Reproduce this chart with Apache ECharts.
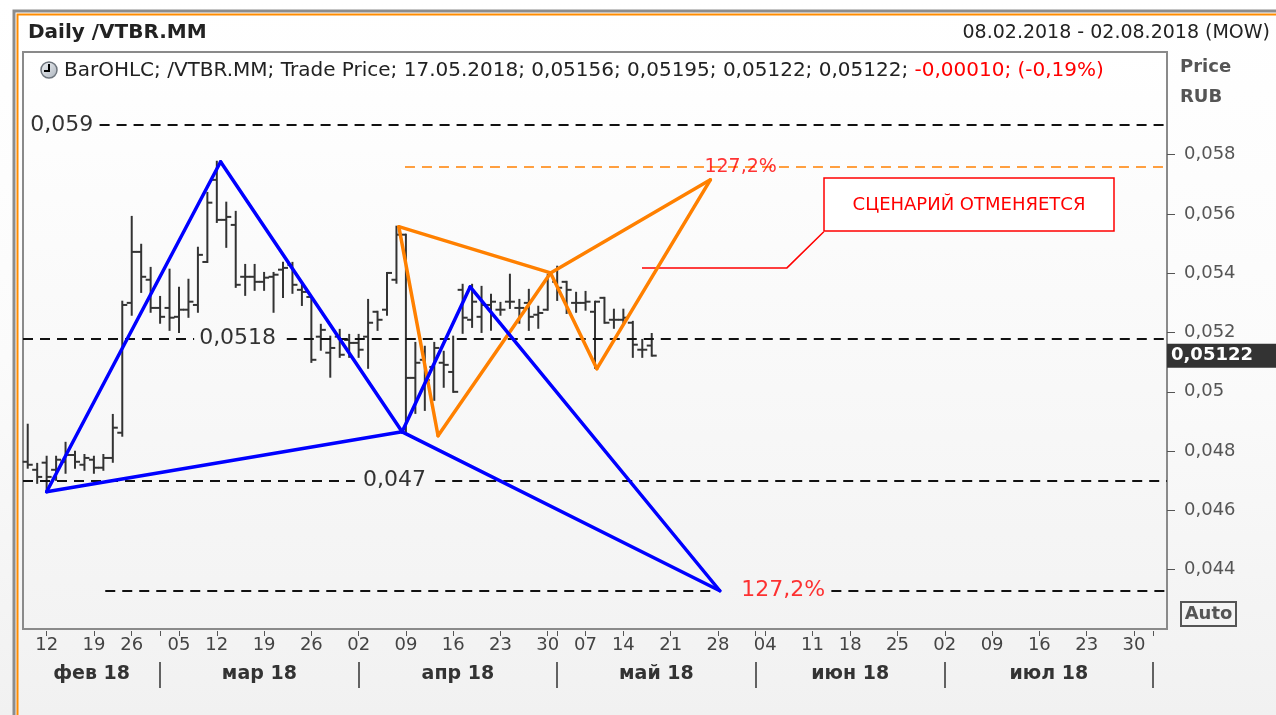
<!DOCTYPE html>
<html>
<head>
<meta charset="utf-8">
<script src="https://cdn.jsdelivr.net/npm/echarts@6/dist/echarts.min.js"></script>
<style>
html, body { margin: 0; padding: 0; }
#main { width: 1276px; height: 715px; background: linear-gradient(#ffffff 0%, #fbfbfb 50%, #f1f1f1 100%); }
</style>
</head>
<body>
<div id="main"></div>
<script>
// trading calendar (MOEX): weekdays minus these holidays
var holidays = ['2018-02-23', '2018-03-08', '2018-05-01', '2018-05-09', '2018-06-12'];
var firstDay = '2018-02-08';
var lastDay = '2018-08-02';
var monthNames = ['фев 18', 'мар 18', 'апр 18', 'май 18', 'июн 18', 'июл 18'];

// daily bars 08.02.2018 - 17.05.2018
var opens = [0.04764,0.04737,0.04761,0.04737,0.04764,0.04787,0.04754,0.04771,0.04744,0.04777,
  0.04862,0.05300,0.05472,0.05378,0.05283,0.05283,0.05253,0.05277,0.05293,0.05438,
  0.05715,0.05580,0.05563,0.05388,0.05388,0.05371,0.05388,0.05412,0.05428,0.05344,
  0.05320,0.05186,0.05132,0.05186,0.05175,0.05165,0.05186,0.05270,0.05277,0.05378,
  0.05530,0.05047,0.05108,0.05084,0.05098,0.05067,0.05344,0.05243,0.05253,0.05293,
  0.05277,0.05304,0.05283,0.05300,0.05260,0.05277,0.05371,0.05371,0.05300,0.05300,
  0.05270,0.05317,0.05243,0.05243,0.05233,0.05142,0.05156];
var highs = [0.04889,0.04757,0.04781,0.04781,0.04828,0.04798,0.04787,0.04781,0.04787,0.04922,
  0.05304,0.05590,0.05496,0.05418,0.05320,0.05412,0.05351,0.05378,0.05486,0.05671,
  0.05776,0.05638,0.05607,0.05428,0.05428,0.05401,0.05401,0.05435,0.05435,0.05368,
  0.05320,0.05226,0.05186,0.05209,0.05192,0.05192,0.05310,0.05270,0.05401,0.05557,
  0.05530,0.05165,0.05152,0.05165,0.05135,0.05186,0.05361,0.05361,0.05354,0.05327,
  0.05300,0.05395,0.05310,0.05344,0.05287,0.05395,0.05422,0.05371,0.05334,0.05337,
  0.05304,0.05317,0.05277,0.05277,0.05236,0.05175,0.05195];
var lows = [0.04744,0.04693,0.04663,0.04703,0.04727,0.04744,0.04737,0.04727,0.04737,0.04764,
  0.04852,0.05260,0.05337,0.05270,0.05233,0.05209,0.05202,0.05253,0.05270,0.05438,
  0.05573,0.05489,0.05354,0.05327,0.05344,0.05344,0.05270,0.05320,0.05334,0.05293,
  0.05101,0.05142,0.05051,0.05118,0.05118,0.05118,0.05081,0.05209,0.05260,0.05368,
  0.04862,0.04929,0.04939,0.04973,0.05017,0.05000,0.05199,0.05219,0.05202,0.05209,
  0.05260,0.05283,0.05233,0.05209,0.05216,0.05277,0.05310,0.05266,0.05270,0.05277,
  0.05081,0.05233,0.05216,0.05233,0.05118,0.05118,0.05122];
var closes = [0.04754,0.04713,0.04713,0.04771,0.04787,0.04764,0.04777,0.04744,0.04777,0.04879,
  0.05293,0.05472,0.05388,0.05283,0.05253,0.05250,0.05277,0.05304,0.05462,0.05638,
  0.05580,0.05590,0.05361,0.05388,0.05371,0.05385,0.05395,0.05418,0.05361,0.05337,
  0.05108,0.05209,0.05148,0.05125,0.05165,0.05142,0.05233,0.05243,0.05401,0.05530,
  0.05047,0.05098,0.05040,0.05148,0.05091,0.05000,0.05250,0.05304,0.05293,0.05304,
  0.05277,0.05304,0.05283,0.05253,0.05266,0.05395,0.05351,0.05344,0.05300,0.05304,
  0.05304,0.05233,0.05243,0.05250,0.05159,0.05142,0.05122];

var yTicks = [0.044, 0.046, 0.048, 0.05, 0.052, 0.054, 0.056, 0.058];

// drawn patterns: [trading-day index, price]
var bluePivots = [[2, 0.04663], [20.4, 0.05776], [39.6, 0.04865], [46.8, 0.05354], [73.2, 0.04329]];
var blueLegs = [[0, 1], [1, 2], [2, 3], [3, 4], [0, 2], [2, 4]];
var orangePivots = [[39.25, 0.05557], [43.4, 0.04852], [55.3, 0.05401], [60.2, 0.05078], [72.2, 0.05715]];
var orangeLegs = [[0, 1], [1, 2], [2, 3], [3, 4], [0, 2], [2, 4]];

// horizontal levels and the pieces of them that are drawn
var levelValues = [0.059, 0.0518, 0.047, 0.04329, 0.05759];
var levelSpans = [
  [[7.6, 120.5]],
  [[-0.5, 17.6], [27.4, 120.5]],
  [[-0.5, 34.6], [43.1, 120.5]],
  [[8.2, 72.6], [85.0, 120.5]],
  [[39.9, 120.5]]
];
var noteTexts = ['0,059', '0,0518', '0,047', '127,2%', '127,2%'];
var notePos = [[3.6, 0.059], [22.2, 0.0518], [38.8, 0.047], [79.9, 0.04329], [75.4, 0.05759]];
var calloutPath = [[64.97, 0.05418], [80.3, 0.05418], [84.2, 0.0554]];

var FONT = 'DejaVu Sans';

// trading days
var days = [];
var d = new Date(firstDay + 'T00:00:00Z');
var end = new Date(lastDay + 'T00:00:00Z');
while (d <= end) {
  var s = d.toISOString().slice(0, 10);
  var wd = d.getUTCDay();
  if (wd !== 0 && wd !== 6 && holidays.indexOf(s) < 0) days.push(s);
  d.setUTCDate(d.getUTCDate() + 1);
}
var isMonday = days.map(function (s) { return new Date(s + 'T00:00:00Z').getUTCDay() === 1; });
var monthStarts = [];
days.forEach(function (s, i) {
  if (i > 0 && s.slice(5, 7) !== days[i - 1].slice(5, 7)) monthStarts.push(i);
});
var monthMids = [];
var prev = -0.5;
monthStarts.forEach(function (m) { monthMids.push((prev + m) / 2); prev = m; });
var dayTicks = days.map(function (s, i) { return isMonday[i] || monthStarts.indexOf(i) >= 0; });

var bars = opens.map(function (o, i) { return [i, o, highs[i], lows[i], closes[i]]; });

function legs(pivots, pairs) {
  return pairs.map(function (p) { return { coords: [pivots[p[0]], pivots[p[1]]] }; });
}
var levelData = [];
levelValues.forEach(function (v, k) {
  levelSpans[k].forEach(function (sp) {
    levelData.push({
      coords: [[sp[0], v], [sp[1], v]],
      lineStyle: { color: k === 4 ? '#ff8000' : '#111', width: k === 4 ? 1.5 : 2 }
    });
  });
});
var noteData = noteTexts.map(function (t, k) {
  return { value: notePos[k], name: t, label: { color: k >= 3 ? '#ff0000' : '#000', fontSize: k === 4 ? 19 : 22 } };
});

function priceFmt(v) { return String(+v.toFixed(3)).replace('.', ','); }

var chart = echarts.init(document.getElementById('main'));
var option = {
  animation: false,
  backgroundColor: 'transparent',
  textStyle: { fontFamily: FONT },
  grid: {
    left: 23, top: 52, width: 1144, height: 577,
    show: true, borderColor: '#8a8a8a', borderWidth: 2,
    outerBoundsMode: 'none',
    backgroundColor: new echarts.graphic.LinearGradient(0, 0, 0, 1, [
      { offset: 0, color: '#ffffff' }, { offset: 1, color: '#f3f3f3' }
    ])
  },
  xAxis: [{
    type: 'category', data: days, boundaryGap: true, offset: 2, position: 'bottom',
    axisLine: { show: false, onZero: false },
    axisTick: { show: true, alignWithLabel: true, length: 5, interval: function (i) { return dayTicks[i]; }, lineStyle: { color: '#555' } },
    axisLabel: { interval: function (i) { return isMonday[i]; }, formatter: function (v) { return v.slice(8, 10); }, color: '#444', fontSize: 18, fontFamily: FONT, margin: 5 },
    splitLine: { show: false }
  }, {
    type: 'value', min: -0.5, max: days.length - 0.5, offset: 33, position: 'bottom',
    axisLine: { show: false, onZero: false },
    axisTick: { show: true, customValues: monthStarts, length: 26, lineStyle: { color: '#333', width: 1.5 } },
    axisLabel: {
      customValues: monthMids, color: '#333', fontSize: 19, fontWeight: 'bold', fontFamily: FONT, margin: 3,
      formatter: function (v) {
        for (var j = 0; j < monthMids.length; j++) if (Math.abs(monthMids[j] - v) < 0.01) return monthNames[j];
        return '';
      }
    },
    splitLine: { show: false }
  }],
  yAxis: {
    type: 'value', position: 'right', min: 0.042, max: 0.061462,
    axisLine: { show: false, onZero: false }, splitLine: { show: false },
    axisTick: { show: true, customValues: yTicks, length: 8, lineStyle: { color: '#555' } },
    axisLabel: { customValues: yTicks, formatter: priceFmt, color: '#555', fontSize: 18, fontFamily: FONT, margin: 17 }
  },
  series: [{
    type: 'custom', xAxisIndex: 0, yAxisIndex: 0, z: 2, silent: true,
    data: bars,
    encode: { x: 0, y: [1, 2, 3, 4] },
    renderItem: function (params, api) {
      var x = api.value(0);
      var o = api.coord([x, api.value(1)]);
      var h = api.coord([x, api.value(2)]);
      var l = api.coord([x, api.value(3)]);
      var c = api.coord([x, api.value(4)]);
      var st = { stroke: '#333', lineWidth: 2 };
      return {
        type: 'group', children: [
          { type: 'line', shape: { x1: h[0], y1: h[1] - 1, x2: l[0], y2: l[1] + 1 }, style: st },
          { type: 'line', shape: { x1: o[0] - 5, y1: o[1], x2: o[0], y2: o[1] }, style: st },
          { type: 'line', shape: { x1: c[0], y1: c[1], x2: c[0] + 5, y2: c[1] }, style: st }
        ]
      };
    }
  }, {
    type: 'lines', coordinateSystem: 'cartesian2d', xAxisIndex: 1, yAxisIndex: 0, z: 3, silent: true,
    data: levelData,
    lineStyle: { type: [10, 7], opacity: 1 }
  }, {
    type: 'lines', coordinateSystem: 'cartesian2d', xAxisIndex: 1, yAxisIndex: 0, z: 4, silent: true,
    polyline: true,
    data: [{ coords: calloutPath }],
    lineStyle: { color: '#ff0000', width: 1.5, opacity: 1 }
  }, {
    type: 'lines', coordinateSystem: 'cartesian2d', xAxisIndex: 1, yAxisIndex: 0, z: 5, silent: true,
    data: legs(orangePivots, orangeLegs),
    lineStyle: { color: '#ff8000', width: 3.5, opacity: 1, cap: 'round', join: 'round' }
  }, {
    type: 'lines', coordinateSystem: 'cartesian2d', xAxisIndex: 1, yAxisIndex: 0, z: 6, silent: true,
    data: legs(bluePivots, blueLegs),
    lineStyle: { color: '#0000ff', width: 3.5, opacity: 1, cap: 'round', join: 'round' }
  }, {
    type: 'scatter', xAxisIndex: 1, yAxisIndex: 0, z: 7, silent: true,
    symbolSize: 1, itemStyle: { color: 'transparent' },
    data: noteData,
    label: { show: true, position: 'inside', formatter: function (p) { return p.name; }, fontFamily: FONT }
  }]
};
chart.setOption(option);

var lastClose = closes[closes.length - 1];
var py = chart.convertToPixel({ yAxisIndex: 0 }, lastClose);

var graphics = [
  { type: 'rect', shape: { x: 14, y: 11, width: 1270, height: 720 }, style: { fill: 'none', stroke: '#8c8c8c', lineWidth: 3 }, silent: true },
  { type: 'rect', shape: { x: 17.5, y: 14.5, width: 1270, height: 720 }, style: { fill: 'none', stroke: '#ff8c00', lineWidth: 2 }, silent: true },
  { type: 'text', style: { x: 28, y: 33, text: 'Daily /VTBR.MM', font: 'bold 20px "DejaVu Sans"', fill: '#222', verticalAlign: 'middle' } },
  { type: 'text', style: { x: 1270, y: 33, text: '08.02.2018 - 02.08.2018 (MOW)', font: '19px "DejaVu Sans"', fill: '#222', align: 'right', verticalAlign: 'middle' } },
  { type: 'circle', shape: { cx: 49, cy: 70, r: 8 }, style: { fill: new echarts.graphic.LinearGradient(0, 0, 1, 1, [{ offset: 0, color: '#f4f6f8' }, { offset: 1, color: '#a9b1bb' }]), stroke: '#6d747c', lineWidth: 1.5 } },
  { type: 'polyline', shape: { points: [[49, 64], [49, 71], [44, 71]] }, style: { stroke: '#000', lineWidth: 2, fill: 'none' } },
  { type: 'text', style: {
      x: 64, y: 71, verticalAlign: 'middle',
      text: '{a|BarOHLC; /VTBR.MM; Trade Price; 17.05.2018; 0,05156; 0,05195; 0,05122; 0,05122; }{b|-0,00010; (-0,19%)}',
      rich: {
        a: { fill: '#222', color: '#222', fontSize: 20, fontFamily: FONT },
        b: { fill: '#ff0000', color: '#ff0000', fontSize: 20, fontFamily: FONT }
      }
  } },
  { type: 'text', style: { x: 1180, y: 67, text: 'Price', font: 'bold 18px "DejaVu Sans"', fill: '#555', verticalAlign: 'middle' } },
  { type: 'text', style: { x: 1180, y: 97, text: 'RUB', font: 'bold 18px "DejaVu Sans"', fill: '#555', verticalAlign: 'middle' } },
  { type: 'rect', shape: { x: 1181, y: 602, width: 55, height: 24 }, style: { fill: '#f4f4f4', stroke: '#555', lineWidth: 2 } },
  { type: 'text', style: { x: 1208.5, y: 614.5, text: 'Auto', font: 'bold 18px "DejaVu Sans"', fill: '#555', align: 'center', verticalAlign: 'middle' } },
  { type: 'rect', z: 10, shape: { x: 824, y: 178, width: 290, height: 53 }, style: { fill: '#ffffff', stroke: '#ff0000', lineWidth: 1.5 } },
  { type: 'text', z: 11, style: { x: 969, y: 205, text: 'СЦЕНАРИЙ ОТМЕНЯЕТСЯ', font: '18px "DejaVu Sans"', fill: '#ff0000', align: 'center', verticalAlign: 'middle' } },
  { type: 'rect', z: 10, shape: { x: 1167, y: py - 12, width: 110, height: 24 }, style: { fill: '#333333' } },
  { type: 'text', z: 11, style: { x: 1171, y: py, text: String(lastClose).replace('.', ','), font: 'bold 18px "DejaVu Sans"', fill: '#ffffff', verticalAlign: 'middle' } }
];
chart.setOption({ graphic: graphics });
</script>
</body>
</html>
